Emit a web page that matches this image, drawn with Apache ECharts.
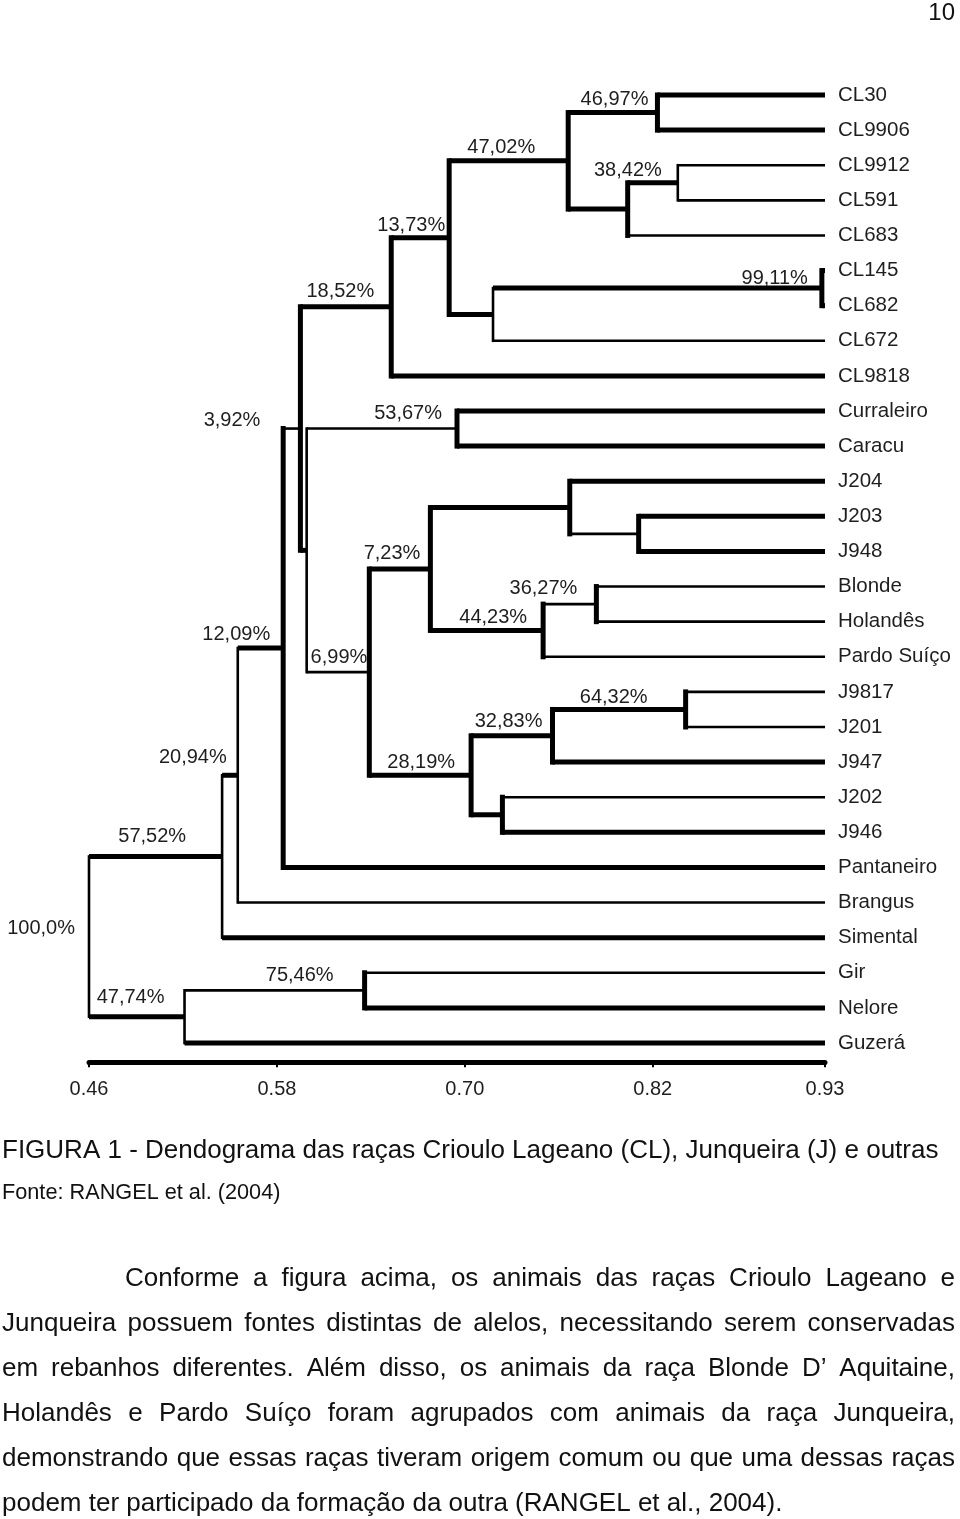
<!DOCTYPE html>
<html><head><meta charset="utf-8">
<script src="https://cdn.jsdelivr.net/npm/echarts@6/dist/echarts.min.js"></script>
<style>html,body{margin:0;padding:0;background:#fff}#c{width:960px;height:1519px}</style>
</head><body><div id="c"></div>
<script>
// ---------- data ----------
const leaves = ['CL30','CL9906','CL9912','CL591','CL683','CL145','CL682','CL672','CL9818',
  'Curraleiro','Caracu','J204','J203','J948','Blonde','Holandês','Pardo Suíço',
  'J9817','J201','J947','J202','J946','Pantaneiro','Brangus','Simental','Gir','Nelore','Guzerá'];
// merges (linkage): numbers refer to earlier merges (0-based), strings to leaves
const mergeLeft  = ['CL30','CL9912',1,0,'CL145',4,3,6,'Curraleiro','J203','J204','Blonde',11,10,
  'J9817',14,'J202',15,13,8,7,20,21,22,'Gir',24,23];
const mergeRight = ['CL9906','CL591','CL683',2,'CL682','CL672',5,'CL9818','Caracu','J948',9,'Holandês','Pardo Suíço',12,
  'J201','J947','J946',16,17,18,19,'Pantaneiro','Brangus','Simental','Nelore','Guzerá',25];
const mergeSimilarity = [0.823,0.836,0.804,0.766,0.928,0.718,0.690,0.653,0.695,0.811,0.767,0.784,0.750,0.678,
  0.841,0.756,0.724,0.704,0.639,0.599,0.595,0.584,0.555,0.545,0.636,0.521,0.460];
const mergeLabels = ['46,97%','38,42%','','47,02%','99,11%','','13,73%','18,52%','53,67%','','','36,27%','44,23%','7,23%',
  '64,32%','32,83%','','28,19%','6,99%','','3,92%','12,09%','20,94%','57,52%','75,46%','47,74%','100,0%'];
const leafSimilarity = 0.93;
const xTicks = [0.46, 0.58, 0.70, 0.82, 0.93];

const pageNumber = '10';
const caption = 'FIGURA 1 - Dendograma das raças Crioulo Lageano (CL), Junqueira (J) e outras';
const sourceLine = 'Fonte: RANGEL et al. (2004)';
const paragraph = [
  'Conforme a figura acima, os animais das raças Crioulo Lageano e',
  'Junqueira possuem fontes distintas de alelos, necessitando serem conservadas',
  'em rebanhos diferentes. Além disso, os animais da raça Blonde D’ Aquitaine,',
  'Holandês e Pardo Suíço foram agrupados com animais da raça Junqueira,',
  'demonstrando que essas raças tiveram origem comum ou que uma dessas raças',
  'podem ter participado da formação da outra (RANGEL et al., 2004).'
];

// ---------- styling / layout ----------
const FONT = '"Liberation Sans", Arial, Helvetica, sans-serif';
const THICK = 5, THIN = 2.6;
const thinBranches = new Set(['CL9912','CL591','CL683','CL672','Blonde','Holandês','Pardo Suíço','J9817','J201','J202','Gir','Brangus', 8, 9, 11, 18, 20, 24]);
const thinJoins = new Set([1,5,19,22,23,25,26]);
const labelNudge = { // [dx from node, dy from node] in px
  '46,97%':[-9,-13],'47,02%':[-33,-13],'38,42%':[-16,-12],'13,73%':[-4,-12],'18,52%':[-17,-15],
  '99,11%':[-14,-10],'3,92%':[-40,-8],'53,67%':[-15,-15],'7,23%':[-10,-16],'12,09%':[-13,-14],
  '6,99%':[-2,-15],'36,27%':[-19,-16],'44,23%':[-16,-13],'64,32%':[-38,-12],'32,83%':[-10,-14],
  '28,19%':[-16,-13],'20,94%':[-11,-18],'57,52%':[-36,-20],'100,0%':[-14,-8],'47,74%':[-20,-19],'75,46%':[-31,-15]
};
const rowTop = 95, rowBottom = 1043;
const rowStep = (rowBottom - rowTop) / (leaves.length - 1);
const yMin = -0.5, yMax = leaves.length - 1 + 0.55;

// ---------- tree layout from data ----------
const mergeY = [];
function refY(r){ return typeof r === 'number' ? mergeY[r] : leaves.indexOf(r); }
function refX(r){ return typeof r === 'number' ? mergeSimilarity[r] : leafSimilarity; }
for (let k = 0; k < mergeSimilarity.length; k++) {
  mergeY[k] = (refY(mergeLeft[k]) + refY(mergeRight[k])) / 2;
}

function renderMerge(params, api){
  const k = params.dataIndex;
  const x = mergeSimilarity[k];
  const a = mergeLeft[k], b = mergeRight[k];
  const pa = api.coord([x, refY(a)]), pb = api.coord([x, refY(b)]);
  const ca = api.coord([refX(a), refY(a)]), cb = api.coord([refX(b), refY(b)]);
  const pn = api.coord([x, mergeY[k]]);
  const children = [
    {type:'line', shape:{x1:pa[0],y1:pa[1],x2:ca[0],y2:ca[1]}, style:{stroke:'#000', lineWidth: thinBranches.has(a)?THIN:THICK}},
    {type:'line', shape:{x1:pb[0],y1:pb[1],x2:cb[0],y2:cb[1]}, style:{stroke:'#000', lineWidth: thinBranches.has(b)?THIN:THICK}},
    {type:'line', shape:{x1:pa[0],y1:pa[1],x2:pb[0],y2:pb[1]}, style:{stroke:'#000', lineWidth: thinJoins.has(k)?THIN:THICK, lineCap:'square'}}
  ];
  const lab = mergeLabels[k];
  if (lab) {
    const n = labelNudge[lab] || [-14,-13];
    children.push({type:'text', style:{text: lab, x: pn[0] + n[0], y: pn[1] + n[1], align:'right', verticalAlign:'middle',
      font: '20px ' + FONT, fill:'#1e1e1e'}});
  }
  return {type:'group', children};
}
function renderLeaf(params, api){
  const i = params.dataIndex;
  const p = api.coord([leafSimilarity, i]);
  return {type:'text', style:{text: leaves[i], x: p[0] + 13, y: p[1], align:'left', verticalAlign:'middle',
    font: '20.5px ' + FONT, fill:'#1e1e1e'}};
}

// ---------- page text (graphic) ----------
const mctx = document.createElement('canvas').getContext('2d');
const PFONT = '26px ' + FONT;
mctx.font = PFONT;
const graphics = [
  {type:'text', x:955, y:13, style:{text: pageNumber, font:'24px ' + FONT, fill:'#111', align:'right', verticalAlign:'middle'}},
  {type:'text', x:2, y:1151, style:{text: caption, font: PFONT, fill:'#111', align:'left', verticalAlign:'middle'}},
  {type:'text', x:2, y:1193, style:{text: sourceLine, font:'21.7px ' + FONT, fill:'#111', align:'left', verticalAlign:'middle'}}
];
paragraph.forEach((line, li) => {
  const y = 1279 + li * 45;
  const left = li === 0 ? 125 : 2, right = 955;
  const words = line.split(' ');
  const last = li === paragraph.length - 1;
  const ws = words.map(w => mctx.measureText(w).width);
  const total = ws.reduce((s, v) => s + v, 0);
  const gap = last ? mctx.measureText(' ').width : (right - left - total) / (words.length - 1);
  let x = left;
  words.forEach((w, wi) => {
    graphics.push({type:'text', x: x, y: y, style:{text: w, font: PFONT, fill:'#111', align:'left', verticalAlign:'middle'}});
    x += ws[wi] + gap;
  });
});

// ---------- chart ----------
const chart = echarts.init(document.getElementById('c'), null, {renderer:'canvas'});
const gridTop = rowTop + yMin * rowStep;
const gridBottomPx = rowTop + yMax * rowStep;
chart.setOption({
  animation: false,
  backgroundColor: '#fff',
  grid: {left: 89, right: 960 - 825, top: gridTop, height: gridBottomPx - gridTop, containLabel: false},
  xAxis: {
    type: 'value', min: 0.46, max: 0.93, position: 'bottom',
    axisLine: {show: true, onZero: false, lineStyle: {color: '#000', width: 5}},
    axisTick: {show: true, customValues: xTicks, length: 5, lineStyle: {color: '#000', width: 2}},
    axisLabel: {show: true, customValues: xTicks, formatter: v => v.toFixed(2), margin: 17,
      fontFamily: FONT, fontSize: 20, color: '#1e1e1e'},
    splitLine: {show: false}
  },
  yAxis: {type: 'value', min: yMin, max: yMax, inverse: true, show: false},
  series: [
    {type: 'custom', name: 'tree', clip: false, renderItem: renderMerge,
      data: mergeSimilarity.map((s, k) => [s, mergeY[k]]), encode: {x: 0, y: 1}},
    {type: 'custom', name: 'leaves', clip: false, renderItem: renderLeaf,
      data: leaves.map((n, i) => [leafSimilarity, i]), encode: {x: 0, y: 1}}
  ],
  graphic: graphics
});
</script></body></html>
